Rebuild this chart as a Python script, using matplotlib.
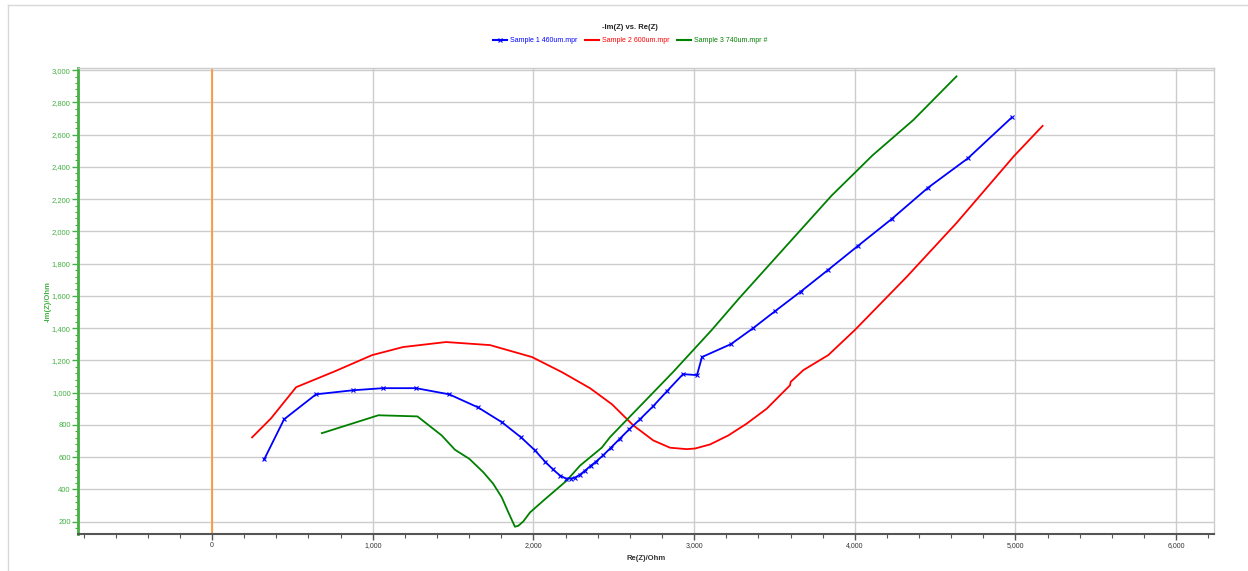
import matplotlib
matplotlib.use("Agg")
import matplotlib.pyplot as plt
from matplotlib.ticker import MultipleLocator, FuncFormatter
from matplotlib.lines import Line2D

plt.rcParams['font.family'] = ['Liberation Sans', 'DejaVu Sans']

# Sample 1 460um (blue, x markers)
re1 = [324, 448, 647, 877, 1064, 1269, 1475, 1655, 1805, 1923, 2010, 2072, 2122,
       2166, 2203, 2234, 2259, 2290, 2321, 2358, 2390, 2433, 2483, 2539, 2595,
       2663, 2744, 2831, 2931, 3018, 3049, 3229, 3366, 3506, 3664, 3835, 4021,
       4230, 4455, 4704, 4977]
im1 = [586, 835, 990, 1015, 1028, 1028, 990, 909, 816, 723, 642, 573, 524,
       486, 468, 468, 474, 492, 517, 548, 573, 611, 660, 716, 772,
       835, 915, 1009, 1115, 1109, 1221, 1301, 1399, 1507, 1627, 1762, 1911,
       2077, 2270, 2453, 2706]

# Sample 2 600um (red)
re2 = [249, 367, 523, 765, 996, 1189, 1456, 1730, 1991, 2178, 2352, 2489, 2622,
       2746, 2850, 2954, 3006, 3099, 3213, 3327, 3452, 3597, 3601, 3680, 3835,
       4001, 4325, 4634, 4991, 5169]
im2 = [723, 841, 1034, 1133, 1233, 1283, 1314, 1295, 1221, 1127, 1028, 928, 797,
       704, 659, 650, 654, 679, 735, 808, 901, 1046, 1067, 1140, 1233,
       1389, 1720, 2053, 2467, 2654]

# Sample 3 740um (green)
re3 = [683, 1035, 1278, 1429, 1512, 1601, 1688, 1750, 1803, 1844, 1885, 1906,
       1937, 1979, 2062, 2207, 2290, 2425, 2477, 2663, 2870, 3110, 3281, 3562,
       3856, 4110, 4365, 4633]
im3 = [749, 860, 853, 735, 646, 590, 507, 435, 351, 258, 169, 175,
       202, 258, 331, 455, 548, 659, 725, 916, 1129, 1389, 1586, 1897,
       2222, 2471, 2691, 2961]

labels = ['Sample 1 460um.mpr', 'Sample 2 600um.mpr', 'Sample 3 740um.mpr #']
colors = ['#0000ff', '#ff0000', '#008000']
axis_green = '#44b044'

fig = plt.figure(figsize=(12.48, 5.71), dpi=100)
ax = fig.add_axes([0.0623, 0.0648, 0.9105, 0.8156])

# light border around the figure
fig.add_artist(Line2D([7.5 / 1248, 7.5 / 1248], [0, 1 - 4.5 / 571], color='#d8d8d8', lw=1))
fig.add_artist(Line2D([7.5 / 1248, 1], [1 - 4.5 / 571, 1 - 4.5 / 571], color='#d8d8d8', lw=1))

ax.axvline(0, color='#ff9933', lw=1.3, zorder=2)

ax.plot(re1, im1, color=colors[0], lw=1.3, marker='x', ms=3, mew=0.8, zorder=4)
ax.plot(re2, im2, color=colors[1], lw=1.3, zorder=3)
ax.plot(re3, im3, color=colors[2], lw=1.3, zorder=3)

ax.set_xlim(-836, 6236)
ax.set_ylim(124, 3011)

ax.xaxis.set_major_locator(MultipleLocator(1000))
ax.xaxis.set_minor_locator(MultipleLocator(200))
ax.yaxis.set_major_locator(MultipleLocator(200))
ax.yaxis.set_minor_locator(MultipleLocator(40))
fmt = FuncFormatter(lambda v, p: f'{int(round(v)):,}')
ax.xaxis.set_major_formatter(fmt)
ax.yaxis.set_major_formatter(fmt)

ax.grid(True, which='major', color='#cccccc', lw=1, zorder=0)
ax.set_axisbelow(True)

for s in ['top', 'right']:
    ax.spines[s].set_color('#cccccc')
    ax.spines[s].set_linewidth(1)
ax.spines['left'].set_color(axis_green)
ax.spines['left'].set_linewidth(2)
ax.spines['bottom'].set_color('#555555')
ax.spines['bottom'].set_linewidth(1.5)

ax.tick_params(axis='x', which='major', length=4, width=1, color='#555555',
               labelsize=5, labelcolor='#333333', pad=2)
ax.tick_params(axis='x', which='minor', length=3, width=0.8, color='#555555')
ax.tick_params(axis='y', which='major', length=4, width=1, color=axis_green,
               labelsize=5.5, labelcolor=axis_green, pad=1)
ax.tick_params(axis='y', which='minor', length=2, width=0.8, color=axis_green)

ax.set_xlabel('Re(Z)/Ohm', fontsize=5.5, fontweight='bold', color='#333333', labelpad=4)
ax.set_ylabel('-Im(Z)/Ohm', fontsize=5.5, fontweight='bold', color=axis_green, labelpad=0)

fig.text(0.505, 0.951, '-Im(Z) vs. Re(Z)', ha='center', va='center',
         fontsize=5.5, fontweight='bold', color='#222222')

handles = [Line2D([], [], color=colors[0], lw=1.5, marker='x', ms=3, mew=0.8),
           Line2D([], [], color=colors[1], lw=1.5),
           Line2D([], [], color=colors[2], lw=1.5)]
leg = fig.legend(handles, labels, loc='center', bbox_to_anchor=(0.505, 0.929),
                 ncol=3, frameon=False, fontsize=5, handlelength=2.0,
                 handletextpad=0.5, columnspacing=1.0)
for t, c in zip(leg.get_texts(), colors):
    t.set_color(c)

fig.savefig('out.png', dpi=100)
